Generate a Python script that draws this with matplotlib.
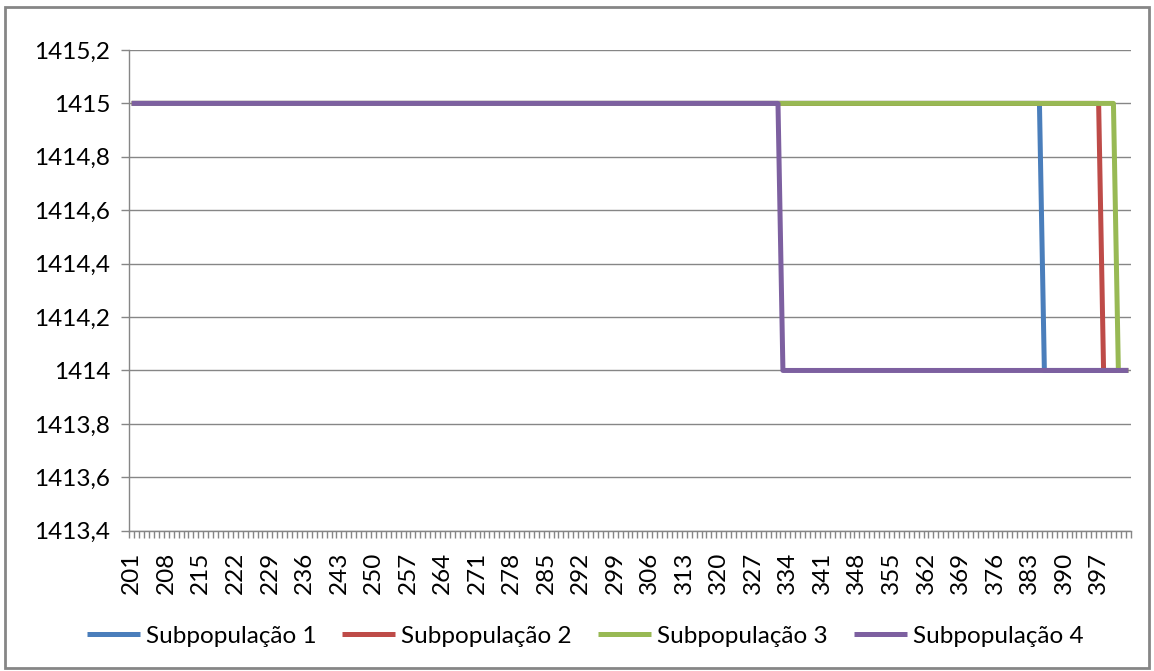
import matplotlib
matplotlib.use("Agg")
import matplotlib.pyplot as plt
from matplotlib.patches import Rectangle
from matplotlib.ticker import FuncFormatter, MultipleLocator, FixedLocator

# generations on the category axis
geracoes = list(range(201, 404))

# best fitness per subpopulation (step)
sub1 = [1415] * 185 + [1414] * 18   # drops after 385
sub2 = [1415] * 197 + [1414] * 6    # drops after 397
sub3 = [1415] * 200 + [1414] * 3    # drops after 400
sub4 = [1415] * 132 + [1414] * 71   # drops after 332

nomes = ['Subpopulação 1', 'Subpopulação 2', 'Subpopulação 3', 'Subpopulação 4']
cores = ['#4A7EBB', '#BE4B48', '#98B954', '#7D60A0']

plt.rcParams['font.family'] = ['Lato', 'DejaVu Sans']
plt.rcParams['font.size'] = 17.5

fig = plt.figure(figsize=(11.54, 6.71), dpi=100)
ax = fig.add_axes([129.3 / 1154, 1 - 530.7 / 671, (1130.7 - 129.3) / 1154, (530.7 - 50) / 671])

idx = list(range(len(geracoes)))
for serie, nome, cor in zip([sub1, sub2, sub3, sub4], nomes, cores):
    ax.plot(idx, serie, color=cor, lw=3.6, label=nome, solid_capstyle='butt', zorder=3)

ax.set_xlim(-0.5, len(geracoes) - 0.5)
ax.set_ylim(1413.4, 1415.2)

grid_c = '#868686'
ax.yaxis.set_major_locator(MultipleLocator(0.2))
ax.yaxis.set_major_formatter(FuncFormatter(lambda v, p: ('%g' % round(v, 1)).replace('.', ',')))
ax.grid(axis='y', color=grid_c, lw=1.0, zorder=1)

ax.xaxis.set_major_locator(FixedLocator(idx[::7]))
ax.set_xticklabels([str(g) for g in geracoes[::7]], rotation=90)
ax.xaxis.set_minor_locator(FixedLocator([i - 0.5 for i in range(len(geracoes) + 1)]))
ax.tick_params(axis='x', which='major', length=0, pad=15)
ax.tick_params(axis='x', which='minor', length=5, width=1, color=grid_c)
ax.tick_params(axis='y', length=5.8, width=1, color=grid_c, pad=8)

for s in ['top', 'right']:
    ax.spines[s].set_visible(False)
for s in ['left', 'bottom']:
    ax.spines[s].set_color(grid_c)
    ax.spines[s].set_linewidth(1.0)

fig.legend(loc='center', bbox_to_anchor=(0.507, 0.052), ncol=4, frameon=False,
           handlelength=2.18, handletextpad=0.25, columnspacing=1.07, fontsize=17.5)

# outer chart border
fig.patches.append(Rectangle((5 / 1154, 3 / 671), 1144 / 1154, 661 / 671,
                             transform=fig.transFigure, fill=False,
                             edgecolor=grid_c, lw=2))

fig.savefig('out.png', dpi=100)
